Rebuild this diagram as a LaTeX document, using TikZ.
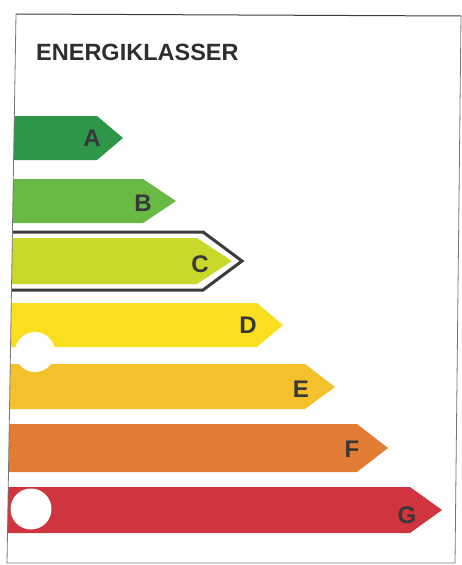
\documentclass[tikz,border=0pt]{standalone}
\usepackage{fontspec}
\setmainfont{Liberation Sans}
\definecolor{clsA}{RGB}{46,150,72}
\definecolor{clsB}{RGB}{104,186,68}
\definecolor{clsC}{RGB}{202,216,44}
\definecolor{clsD}{RGB}{250,222,32}
\definecolor{clsE}{RGB}{244,192,44}
\definecolor{clsF}{RGB}{226,124,52}
\definecolor{clsG}{RGB}{208,52,62}
\definecolor{frameline}{RGB}{60,60,60}
\begin{document}
\begin{tikzpicture}[x=1pt, y=-1pt,
  klass/.style={font=\bfseries\fontsize{24}{24}\selectfont, text=black!78, inner sep=0pt, anchor=center},
  hole/.style={fill=white}]
\useasboundingbox (0,0) rectangle (462,565);
\begin{scope}
\clip (16,14) -- (461,16) -- (455,563) -- (7,563) -- cycle;
% the class bars
\fill[clsA] (0,116) -- (97,116) -- (123,138) -- (97,160) -- (0,160) -- cycle;
\fill[clsB] (0,179) -- (143,179) -- (176,201) -- (143,223) -- (0,223) -- cycle;
\fill[clsC] (0,238) -- (197,238) -- (232,261) -- (197,284) -- (0,284) -- cycle;
\draw[line width=3pt, frameline, line join=miter] (0,232) -- (203,232) -- (242,261) -- (203,290) -- (0,290);
\fill[clsD] (0,303) -- (257,303) -- (283,325) -- (257,347) -- (0,347) -- cycle;
\fill[clsE] (0,364) -- (305,364) -- (335,387) -- (305,409) -- (0,409) -- cycle;
\fill[clsF] (0,424) -- (357,424) -- (388,448) -- (357,472) -- (0,472) -- cycle;
\fill[clsG] (0,487) -- (410,487) -- (442,510) -- (410,533) -- (0,533) -- cycle;
% punch holes
\fill[hole] (35,352) circle (20pt);
\fill[hole] (31,509) circle (20.5pt);
\end{scope}
\draw[frameline, line width=1pt] (16,14) -- (461,16);
\draw[frameline!70, line width=0.8pt] (16,14) -- (7,563) -- (455,563) -- (461,16);
\node[font=\bfseries\fontsize{23.5}{24}\selectfont, text=black!82, anchor=base west, inner sep=0pt] (title) at (36,60) {ENERGIKLASSER};
\node[klass] (klA) at (92,138) {A};
\node[klass] (klB) at (143,203) {B};
\node[klass] (klC) at (200,264) {C};
\node[klass] (klD) at (248,325) {D};
\node[klass] (klE) at (301,389) {E};
\node[klass] (klF) at (352,449) {F};
\node[klass] (klG) at (407,515) {G};
\end{tikzpicture}
\end{document}
